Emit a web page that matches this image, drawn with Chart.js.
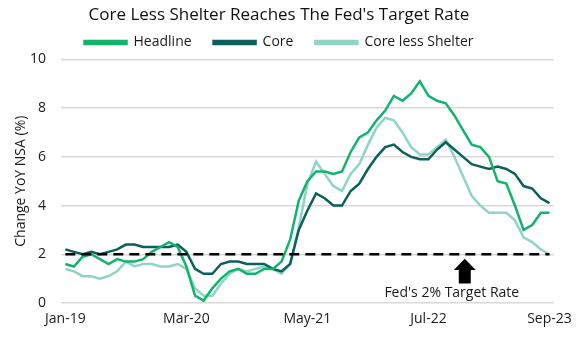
<!DOCTYPE html>
<html>
<head>
<meta charset="utf-8">
<script src="https://cdn.jsdelivr.net/npm/chart.js@4"></script>
<style>
  html, body { margin: 0; padding: 0; background: #fff; }
  #wrap { width: 580px; height: 350px; }
</style>
</head>
<body>
<div id="wrap"><canvas id="chart"></canvas></div>
<script>
const months = [
  "Jan-19","Feb-19","Mar-19","Apr-19","May-19","Jun-19","Jul-19","Aug-19","Sep-19","Oct-19","Nov-19","Dec-19",
  "Jan-20","Feb-20","Mar-20","Apr-20","May-20","Jun-20","Jul-20","Aug-20","Sep-20","Oct-20","Nov-20","Dec-20",
  "Jan-21","Feb-21","Mar-21","Apr-21","May-21","Jun-21","Jul-21","Aug-21","Sep-21","Oct-21","Nov-21","Dec-21",
  "Jan-22","Feb-22","Mar-22","Apr-22","May-22","Jun-22","Jul-22","Aug-22","Sep-22","Oct-22","Nov-22","Dec-22",
  "Jan-23","Feb-23","Mar-23","Apr-23","May-23","Jun-23","Jul-23","Aug-23","Sep-23"
];

const headline = [
  1.6, 1.5, 1.9, 2.0, 1.8, 1.6, 1.8, 1.7, 1.7, 1.8, 2.1, 2.3,
  2.5, 2.3, 1.5, 0.3, 0.1, 0.6, 1.0, 1.3, 1.4, 1.2, 1.2, 1.4,
  1.4, 1.7, 2.6, 4.2, 5.0, 5.4, 5.4, 5.3, 5.4, 6.2, 6.8, 7.0,
  7.5, 7.9, 8.5, 8.3, 8.6, 9.1, 8.5, 8.3, 8.2, 7.7, 7.1, 6.5,
  6.4, 6.0, 5.0, 4.9, 4.0, 3.0, 3.2, 3.7, 3.7
];

const core = [
  2.2, 2.1, 2.0, 2.1, 2.0, 2.1, 2.2, 2.4, 2.4, 2.3, 2.3, 2.3,
  2.3, 2.4, 2.1, 1.4, 1.2, 1.2, 1.6, 1.7, 1.7, 1.6, 1.6, 1.6,
  1.4, 1.3, 1.6, 3.0, 3.8, 4.5, 4.3, 4.0, 4.0, 4.6, 4.9, 5.5,
  6.0, 6.4, 6.5, 6.2, 6.0, 5.9, 5.9, 6.3, 6.6, 6.3, 6.0, 5.7,
  5.6, 5.5, 5.6, 5.5, 5.3, 4.8, 4.7, 4.3, 4.1
];

const coreLessShelter = [
  1.4, 1.3, 1.1, 1.1, 1.0, 1.1, 1.3, 1.7, 1.5, 1.6, 1.6, 1.5,
  1.5, 1.6, 1.4, 0.6, 0.3, 0.3, 0.8, 1.2, 1.4, 1.3, 1.4, 1.5,
  1.4, 1.2, 1.6, 3.1, 4.9, 5.8, 5.3, 4.8, 4.6, 5.3, 5.7, 6.5,
  7.2, 7.6, 7.5, 7.0, 6.4, 6.1, 6.1, 6.4, 6.7, 6.0, 5.2, 4.4,
  4.0, 3.7, 3.7, 3.7, 3.4, 2.7, 2.5, 2.2, 2.0
];

const targetRate = 2;
const targetLabel = "Fed's 2% Target Rate";

const FONT = "'Open Sans', 'Noto Sans', sans-serif";
const TEXT = "#1a1a1a";

// dashed Fed target line, arrow and its caption
const targetPlugin = {
  id: "target",
  afterDatasetsDraw(chart) {
    const { ctx, scales: { x, y } } = chart;
    const yPos = y.getPixelForValue(targetRate);
    ctx.save();
    ctx.strokeStyle = "#000";
    ctx.lineWidth = 2.5;
    ctx.setLineDash([10, 6]);
    ctx.beginPath();
    ctx.moveTo(x.getPixelForValue(0), yPos);
    ctx.lineTo(x.getPixelForValue(months.length - 1), yPos);
    ctx.stroke();
    ctx.setLineDash([]);

    // arrow pointing up at the line
    const ax = x.getPixelForValue(46.2);
    const tip = y.getPixelForValue(1.82);
    const base = y.getPixelForValue(1.35);
    const tail = y.getPixelForValue(0.8);
    ctx.fillStyle = "#000";
    ctx.beginPath();
    ctx.moveTo(ax, tip);
    ctx.lineTo(ax + 11, base);
    ctx.lineTo(ax + 6, base);
    ctx.lineTo(ax + 6, tail);
    ctx.lineTo(ax - 6, tail);
    ctx.lineTo(ax - 6, base);
    ctx.lineTo(ax - 11, base);
    ctx.closePath();
    ctx.fill();

    ctx.fillStyle = TEXT;
    ctx.font = "14px " + FONT;
    ctx.textAlign = "center";
    ctx.textBaseline = "middle";
    ctx.fillText(targetLabel, x.getPixelForValue(44.7), y.getPixelForValue(0.4));
    ctx.restore();
  },
};

const series = function (label, data, color) {
  return {
    label: label,
    data: data,
    borderColor: color,
    backgroundColor: color,
    borderWidth: 2.5,
    pointRadius: 0,
    tension: 0,
    fill: false,
  };
};

new Chart(document.getElementById("chart"), {
  type: "line",
  data: {
    labels: months,
    datasets: [
      series("Headline", headline, "#12b46b"),
      series("Core", core, "#0b5f5c"),
      series("Core less Shelter", coreLessShelter, "#8fd4c5"),
    ],
  },
  plugins: [targetPlugin],
  options: {
    responsive: true,
    maintainAspectRatio: false,
    animation: false,
    layout: { padding: { left: 0, right: 22, top: 0, bottom: 0 } },
    plugins: {
      title: {
        display: true,
        text: "Core Less Shelter Reaches The Fed's Target Rate",
        color: "#111",
        font: { family: FONT, size: 17, weight: "normal" },
        padding: { top: 5, bottom: -12 },
      },
      legend: {
        display: true,
        labels: {
          color: TEXT,
          font: { family: FONT, size: 14 },
          boxWidth: 42,
          boxHeight: 3,
          padding: 22,
        },
      },
      tooltip: { enabled: false },
    },
    scales: {
      x: {
        offset: true,
        grid: { display: false, drawTicks: false },
        border: { display: false },
        ticks: {
          autoSkip: false,
          maxRotation: 0,
          padding: 8,
          color: TEXT,
          font: { family: FONT, size: 14 },
          callback: function (value, index) {
            return index % 14 === 0 ? months[index] : null;
          },
        },
        afterFit: (scale) => { scale.height = 47; },
      },
      y: {
        min: 0,
        max: 10,
        grid: { color: "#d9d9d9", lineWidth: 1.5, drawTicks: false },
        border: { display: false },
        ticks: {
          stepSize: 2,
          padding: 15,
          color: TEXT,
          font: { family: FONT, size: 14 },
        },
        title: {
          display: true,
          text: "Change YoY NSA (%)",
          color: TEXT,
          font: { family: FONT, size: 14 },
          padding: { top: 13, bottom: 0 },
        },
        afterFit: (scale) => { scale.width = 61; },
      },
    },
  },
});
</script>
</body>
</html>
